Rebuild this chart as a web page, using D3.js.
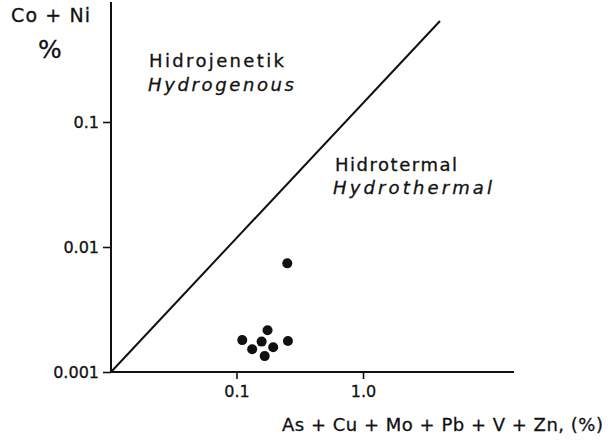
<!DOCTYPE html>
<html>
<head>
<meta charset="utf-8">
<script src="https://cdn.jsdelivr.net/npm/d3@7"></script>
<style>
  html, body { margin: 0; padding: 0; background: #fff; }
  svg { display: block; }
  text { font-family: "DejaVu Sans", sans-serif; fill: #111; stroke: #111; stroke-width: 0.3; }
</style>
</head>
<body>
<svg id="chart" width="608" height="442"></svg>
<script>
// Data (log-log): x = As+Cu+Mo+Pb+V+Zn (%), y = Co+Ni (%)
const sampleX = [0.252, 0.111, 0.133, 0.158, 0.176, 0.195, 0.167, 0.255];
const sampleY = [0.00740, 0.00180, 0.00152, 0.00175, 0.00216, 0.00158, 0.00134, 0.00177];
// Boundary line between hydrogenous and hydrothermal fields
const boundaryX = [0.01, 4.06];
const boundaryY = [0.001, 0.643];
const xTicks = [0.1, 1.0];
const xTickLabels = ["0.1", "1.0"];
const yTicks = [0.1, 0.01, 0.001];
const yTickLabels = ["0.1", "0.01", "0.001"];

const svg = d3.select("#chart");
const x = d3.scaleLog().domain([0.01, 10]).range([110, 489.5]);
const y = d3.scaleLog().domain([0.001, 1]).range([372, -3]);
const xEnd = 514, yTop = 2;

// Axes
const xAxis = d3.axisBottom(x).tickValues(xTicks).tickFormat((d, i) => xTickLabels[i]).tickSize(7).tickSizeOuter(0);
const gx = svg.append("g").attr("transform", "translate(0,372)").call(xAxis);
gx.select(".domain").remove();
gx.append("line").attr("x1", x(0.01)).attr("x2", xEnd).attr("y1", 0).attr("y2", 0)
  .attr("stroke", "#111").attr("stroke-width", 2);
gx.selectAll(".tick line").attr("stroke", "#111").attr("stroke-width", 1.6);
gx.selectAll(".tick text").attr("font-size", 16).attr("dy", 0).attr("y", 25)
  .style("font-family", "DejaVu Sans").attr("fill", "#111");

const yAxis = d3.axisLeft(y).tickValues(yTicks).tickFormat((d, i) => yTickLabels[i]).tickSize(8).tickSizeOuter(0);
const gy = svg.append("g").attr("transform", "translate(111,0)").call(yAxis);
gy.select(".domain").remove();
gy.append("line").attr("x1", 0).attr("x2", 0).attr("y1", y(0.001)).attr("y2", yTop)
  .attr("stroke", "#111").attr("stroke-width", 2);
gy.selectAll(".tick line").attr("stroke", "#111").attr("stroke-width", 1.6);
gy.selectAll(".tick text").attr("font-size", 16).attr("x", -12).attr("dy", "0.36em")
  .style("font-family", "DejaVu Sans").attr("fill", "#111");

// Boundary line
svg.append("line")
  .attr("x1", x(boundaryX[0]) + 1).attr("y1", y(boundaryY[0]))
  .attr("x2", x(boundaryX[1])).attr("y2", y(boundaryY[1]))
  .attr("stroke", "#111").attr("stroke-width", 2);

// Points
svg.selectAll("circle.pt").data(sampleX.map((d, i) => [d, sampleY[i]]))
  .enter().append("circle").attr("class", "pt")
  .attr("cx", d => x(d[0])).attr("cy", d => y(d[1])).attr("r", 5)
  .attr("fill", "#111");

// Labels
function label(txt, px, py, size, len, italic) {
  const t = svg.append("text").attr("x", px).attr("y", py).attr("font-size", size).text(txt);
  if (len) t.attr("textLength", len).attr("lengthAdjust", "spacing");
  if (italic) t.attr("font-style", "italic");
  return t;
}
label("Co + Ni", 11, 22, 19, 79);
label("%", 38, 58, 25, 27);
label("Hidrojenetik", 149, 67, 18, 135);
label("Hydrogenous", 148, 91, 18, 146, true);
label("Hidrotermal", 335, 171, 18, 122);
label("Hydrothermal", 333, 194, 18, 159, true);
label("As + Cu + Mo + Pb + V + Zn, (%)", 282, 431, 18, 321);
</script>
</body>
</html>
